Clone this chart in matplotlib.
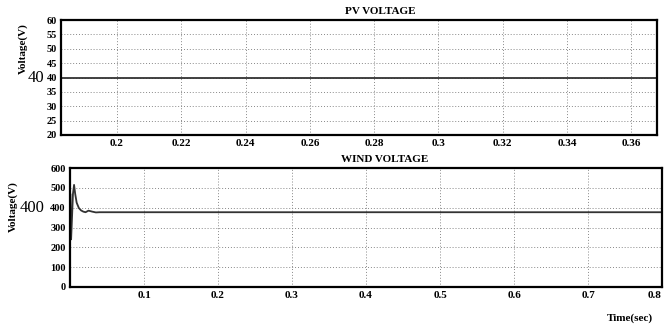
import numpy as np
import matplotlib
matplotlib.use('Agg')
import matplotlib.pyplot as plt

# PV voltage (flat at 40 V over the shown window)
pv_t = [0.1826, 0.368]
pv_v = [40, 40]

# wind voltage: start-up transient then steady value
wind_t = [0.0, 0.0004, 0.0008, 0.0015, 0.0025, 0.004, 0.0055, 0.007, 0.009, 0.012,
          0.015, 0.018, 0.021, 0.025, 0.03, 0.035, 0.04, 0.1, 0.8]
wind_v = [150, 470, 260, 240, 330, 470, 515, 470, 425, 398,
          386, 380, 377, 385, 380, 376, 377, 377, 377]

pv_yticks = [20, 25, 30, 35, 40, 45, 50, 55, 60]
pv_xticks = [0.2, 0.22, 0.24, 0.26, 0.28, 0.3, 0.32, 0.34, 0.36]
wind_yticks = [0, 100, 200, 300, 400, 500, 600]
wind_xticks = [0.1, 0.2, 0.3, 0.4, 0.5, 0.6, 0.7, 0.8]

plt.rcParams['font.family'] = ['Liberation Serif', 'DejaVu Serif']
plt.rcParams['font.weight'] = 'bold'

fig = plt.figure(figsize=(6.64, 3.26), dpi=100)
W, H = 664.0, 326.0


def axes_px(x0, y0, x1, y1):
    return fig.add_axes([x0 / W, 1 - y1 / H, (x1 - x0) / W, (y1 - y0) / H])


def style(ax):
    ax.grid(True, linestyle=(0, (1, 2)), color='#888888', linewidth=0.7)
    for s in ax.spines.values():
        s.set_linewidth(1.6)
    ax.tick_params(length=0, pad=3)
    for lab in ax.get_xticklabels() + ax.get_yticklabels():
        lab.set_fontweight('bold')


# top panel
ax1 = axes_px(61, 20, 657, 135)
ax1.plot(pv_t, pv_v, color='#333333', lw=1.3)
ax1.set_xlim(0.1826, 0.368)
ax1.set_ylim(20, 60)
ax1.set_yticks(pv_yticks)
ax1.set_yticklabels([str(v) for v in pv_yticks], fontsize=7.5)
ax1.set_xticks(pv_xticks)
ax1.set_xticklabels([('%g' % v) for v in pv_xticks], fontsize=8)
style(ax1)
ax1.set_ylabel('Voltage(V)', fontsize=8, fontweight='bold')
ax1.yaxis.set_label_coords(-0.056, 0.75)
ax1.set_title('PV VOLTAGE', fontsize=8, fontweight='bold', x=(380 - 61) / 596.0, pad=4)
ax1.text(-0.028, 40, '40', transform=ax1.get_yaxis_transform(), ha='right', va='center',
         fontsize=12, fontweight='normal')

# bottom panel
ax2 = axes_px(70, 168, 662, 287)
ax2.plot(wind_t, wind_v, color='#333333', lw=1.3)
ax2.set_xlim(0, 0.8)
ax2.set_ylim(0, 600)
ax2.set_yticks(wind_yticks)
ax2.set_yticklabels([str(v) for v in wind_yticks], fontsize=7.5)
ax2.set_xticks(wind_xticks)
ax2.set_xticklabels([('%g' % v) for v in wind_xticks], fontsize=8)
ax2.get_xticklabels()[-1].set_horizontalalignment('right')
style(ax2)
ax2.set_ylabel('Voltage(V)', fontsize=8, fontweight='bold')
ax2.yaxis.set_label_coords(-0.088, 0.68)
ax2.set_title('WIND VOLTAGE', fontsize=8, fontweight='bold', x=(385 - 70) / 592.0, pad=4)
ax2.text(-0.043, 400, '400', transform=ax2.get_yaxis_transform(), ha='right', va='center',
         fontsize=12, fontweight='normal')
fig.text(630 / W, 1 - 318 / H, 'Time(sec)', ha='center', va='center', fontsize=8,
         fontweight='bold')

fig.savefig('out.png', dpi=100, facecolor='white')
